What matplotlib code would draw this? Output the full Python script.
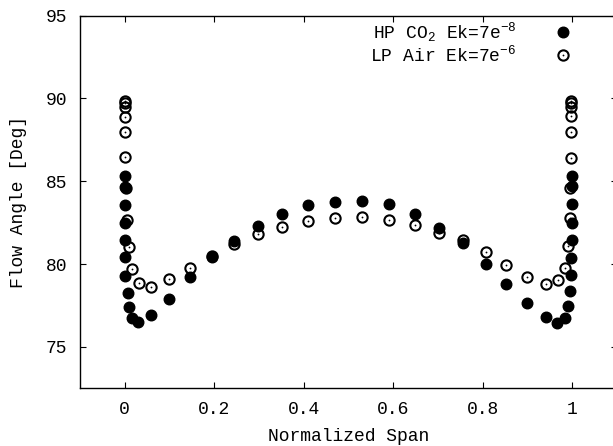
import matplotlib
matplotlib.use("Agg")
import matplotlib.pyplot as plt

# HP CO2 Ek=7e-8 (filled circles)
hp_x = [0, 0, 0, 0, 0, 0, 0, 0.007, 0.009, 0.016, 0.03, 0.058, 0.099, 0.145, 0.194,
        0.245, 0.297, 0.352, 0.41, 0.47, 0.53, 0.59, 0.648, 0.702, 0.756, 0.807,
        0.853, 0.9, 0.941, 0.966, 0.984, 0.991, 0.995, 0.998, 0.998, 1, 1, 1, 1, 1]
hp_y = [85.3, 84.65, 83.55, 82.5, 81.45, 80.4, 79.3, 78.28, 77.43, 76.77, 76.5, 76.9,
        77.92, 79.24, 80.45, 81.39, 82.33, 83.05, 83.54, 83.74, 83.8, 83.63, 83.05,
        82.19, 81.25, 79.98, 78.82, 77.67, 76.8, 76.47, 76.77, 77.47, 78.37, 79.32,
        80.34, 81.43, 82.49, 83.6, 84.7, 85.3]

# LP Air Ek=7e-6 (open circles with centre dot)
lp_x = [0, 0, 0, 0, 0, 0, 0.002, 0.004, 0.009, 0.016, 0.031, 0.058, 0.099, 0.146,
        0.194, 0.245, 0.297, 0.352, 0.41, 0.47, 0.53, 0.59, 0.648, 0.702, 0.756,
        0.807, 0.853, 0.9, 0.941, 0.969, 0.984, 0.991, 0.995, 0.996, 0.998, 0.998,
        0.998, 0.998, 0.998, 0.998]
lp_y = [89.85, 89.7, 89.5, 88.9, 87.95, 86.45, 84.6, 82.69, 81.05, 79.72, 78.84,
        78.64, 79.08, 79.78, 80.5, 81.19, 81.79, 82.25, 82.63, 82.8, 82.83, 82.68,
        82.35, 81.89, 81.45, 80.72, 79.94, 79.22, 78.78, 79.02, 79.78, 81.08, 82.8,
        84.6, 86.41, 87.95, 88.92, 89.5, 89.7, 89.85]

x_ticks = [0, 0.2, 0.4, 0.6, 0.8, 1]
x_ticklabels = ["0", "0.2", "0.4", "0.6", "0.8", "1"]
y_ticks = [75, 80, 85, 90, 95]

FONT = "Liberation Mono"
plt.rcParams["font.family"] = [FONT, "DejaVu Sans Mono"]
plt.rcParams["mathtext.fontset"] = "custom"
plt.rcParams["mathtext.rm"] = FONT

fig = plt.figure(figsize=(6.13, 4.46), dpi=100)
W, H = 613, 446
left, right = 80, 616.9
top, bottom = 15.7, 388.3
ax = fig.add_axes([left / W, 1 - bottom / H, (right - left) / W, (bottom - top) / H])

h1, = ax.plot(hp_x, hp_y, linestyle="none", marker="o", markersize=7.6,
              markerfacecolor="black", markeredgecolor="black", zorder=3)
h2, = ax.plot(lp_x, lp_y, linestyle="none", marker="o", markersize=7.4,
              markerfacecolor="none", markeredgecolor="black", markeredgewidth=1.5, zorder=4)
h3, = ax.plot(lp_x, lp_y, linestyle="none", marker="o", markersize=1.3,
              markerfacecolor="black", markeredgecolor="black", markeredgewidth=0, zorder=5)

ax.set_xlim(-0.1, 1.1)
ax.set_ylim(72.5, 95)
ax.set_xticks(x_ticks)
ax.set_xticklabels(x_ticklabels)
ax.set_yticks(y_ticks)
ax.tick_params(direction="in", length=4, width=0.8, top=True, right=True,
               labelsize=13, pad=9)
for s in ax.spines.values():
    s.set_linewidth(1.0)

ax.set_xlabel("Normalized Span", fontsize=13, labelpad=7)
ax.set_ylabel("Flow Angle [Deg]", fontsize=13, labelpad=14)

leg = ax.legend([h1, (h2, h3)],
                [r"HP CO$_2$ Ek=7e$^{-8}$", r"LP Air Ek=7e$^{-6}$"],
                loc="upper right", bbox_to_anchor=(574 / W, 1 - 20 / H),
                bbox_transform=fig.transFigure, frameon=False, markerfirst=False,
                fontsize=13, handlelength=1.2, handletextpad=2.0,
                labelspacing=0.05, borderpad=0, borderaxespad=0)

fig.savefig("out.png", dpi=100)
